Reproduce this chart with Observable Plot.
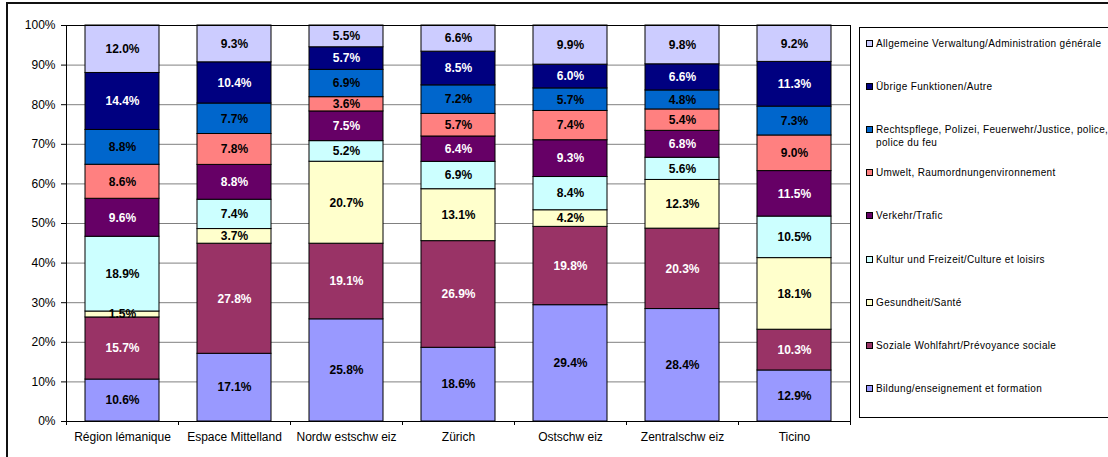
<!DOCTYPE html>
<html>
<head>
<meta charset="utf-8">
<script src="https://cdn.jsdelivr.net/npm/d3@7"></script>
<script src="https://cdn.jsdelivr.net/npm/@observablehq/plot@0.6"></script>
<style>
  body { margin: 0; background: #fff; font-family: "Liberation Sans", Arial, sans-serif; }
  #wrap { position: relative; width: 1108px; height: 457px; overflow: hidden; background: #fff; }
  #outer { position: absolute; left: 6px; top: 2px; width: 1200px; height: 600px; border: 2px solid #111; box-sizing: border-box; }
  #chart { position: absolute; left: 0; top: 0; }
  #legend { position: absolute; left: 859px; top: 27px; width: 300px; height: 391px; border: 1px solid #000; box-sizing: border-box; background: #fff; }
  .item { position: absolute; left: 6px; display: flex; align-items: flex-start; font-size: 10px; letter-spacing: 0.35px; line-height: 13px; color: #000; white-space: pre-line; }
  .sw { width: 5px; height: 5px; border: 1px solid #000; margin-top: 3px; margin-right: 3px; flex: none; }
</style>
</head>
<body>
<div id="wrap">
  <div id="outer"></div>
  <div id="chart"></div>
  <div id="legend"></div>
</div>
<script>
// ---- data ----
const regions = ["Région lémanique", "Espace Mittelland", "Nordwestschweiz", "Zürich", "Ostschweiz", "Zentralschweiz", "Ticino"];
const regionLabels = ["Région lémanique", "Espace Mittelland", "Nordw estschw eiz", "Zürich", "Ostschw eiz", "Zentralschw eiz", "Ticino"];

// series, bottom to top of each bar
const series = [
  "Bildung/enseignement et formation",
  "Soziale Wohlfahrt/Prévoyance sociale",
  "Gesundheit/Santé",
  "Kultur und Freizeit/Culture et loisirs",
  "Verkehr/Trafic",
  "Umwelt, Raumordnungenvironnement",
  "Rechtspflege, Polizei, Feuerwehr/Justice, police, police du feu",
  "Übrige Funktionen/Autre",
  "Allgemeine Verwaltung/Administration générale"
];
const legendLabels = [
  "Bildung/enseignement et formation",
  "Soziale Wohlfahrt/Prévoyance sociale",
  "Gesundheit/Santé",
  "Kultur und Freizeit/Culture et loisirs",
  "Verkehr/Trafic",
  "Umwelt, Raumordnungenvironnement",
  "Rechtspflege, Polizei, Feuerwehr/Justice, police,\npolice du feu",
  "Übrige Funktionen/Autre",
  "Allgemeine Verwaltung/Administration générale"
];
const seriesColors = ["#9999FF", "#993366", "#FFFFCC", "#CCFFFF", "#660066", "#FF8080", "#0066CC", "#000080", "#CCCCFF"];
const darkSeries = ["Soziale Wohlfahrt/Prévoyance sociale", "Verkehr/Trafic", "Übrige Funktionen/Autre"];

const bildung      = [10.6, 17.1, 25.8, 18.6, 29.4, 28.4, 12.9];
const soziale      = [15.7, 27.8, 19.1, 26.9, 19.8, 20.3, 10.3];
const gesundheit   = [1.5, 3.7, 20.7, 13.1, 4.2, 12.3, 18.1];
const kultur       = [18.9, 7.4, 5.2, 6.9, 8.4, 5.6, 10.5];
const verkehr      = [9.6, 8.8, 7.5, 6.4, 9.3, 6.8, 11.5];
const umwelt       = [8.6, 7.8, 3.6, 5.7, 7.4, 5.4, 9.0];
const rechtspflege = [8.8, 7.7, 6.9, 7.2, 5.7, 4.8, 7.3];
const uebrige      = [14.4, 10.4, 5.7, 8.5, 6.0, 6.6, 11.3];
const allgemeine   = [12.0, 9.3, 5.5, 6.6, 9.9, 9.8, 9.2];
const seriesValues = [bildung, soziale, gesundheit, kultur, verkehr, umwelt, rechtspflege, uebrige, allgemeine];

const yTicks = [0, 0.1, 0.2, 0.3, 0.4, 0.5, 0.6, 0.7, 0.8, 0.9, 1];

// ---- table ----
const data = [];
series.forEach((s, si) => {
  regions.forEach((r, ri) => {
    data.push({series: s, region: r, value: seriesValues[si][ri], color: seriesColors[si], textColor: darkSeries.includes(s) ? "#ffffff" : "#000000"});
  });
});

const labelOf = new Map(regions.map((r, i) => [r, regionLabels[i]]));

function boundaryTicks(index, scales) {
  const x = scales.x, y = scales.y;
  const bw = x.bandwidth ? x.bandwidth() : 0;
  const xs = regions.map(r => x(r));
  const gap = xs[1] - xs[0] - bw;
  const bounds = [xs[0] - gap / 2];
  for (let i = 0; i < xs.length; i++) bounds.push(xs[i] + bw + gap / 2);
  const y0 = y(0);
  const g = d3.create("svg:g").attr("stroke", "#000").attr("stroke-width", 1);
  for (const b of bounds) {
    g.append("line").attr("x1", Math.round(b) + 0.5).attr("x2", Math.round(b) + 0.5).attr("y1", y0).attr("y2", y0 + 4);
  }
  return g.node();
}

const stackOpts = {offset: "normalize", x: "region", y: "value", z: "series"};

const chart = Plot.plot({
  width: 852,
  height: 457,
  marginLeft: 66,
  marginRight: 2,
  marginTop: 25,
  marginBottom: 36,
  style: {background: "transparent", fontFamily: "'Liberation Sans', Arial, sans-serif", fontSize: "12px", color: "#000"},
  x: {domain: regions, paddingInner: 0.34, paddingOuter: 0.17, label: null},
  y: {domain: [0, 1], label: null},
  marks: [
    Plot.ruleY(yTicks.slice(1, -1), {stroke: "#808080", strokeWidth: 1}),
    Plot.barY(data, Plot.stackY({...stackOpts, fill: "color", stroke: "#000", strokeWidth: 1})),
    Plot.text(data, Plot.stackY({...stackOpts, text: d => d.value.toFixed(1) + "%", fill: "textColor", fontWeight: "bold", fontSize: 12})),
    Plot.frame({stroke: "#000", strokeWidth: 1}),
    Plot.axisY({ticks: yTicks, tickFormat: d3.format(".0%"), tickSize: 5, tickPadding: 6, fontSize: 12, label: null}),
    Plot.axisX({tickSize: 0, tickPadding: 11, fontSize: 12, label: null, tickFormat: d => labelOf.get(d)}),
    boundaryTicks
  ]
});
document.getElementById("chart").appendChild(chart);

// ---- legend (top to bottom: reverse stack order) ----
const legend = document.getElementById("legend");
const order = d3.range(series.length).reverse();
order.forEach((si, k) => {
  const item = document.createElement("div");
  item.className = "item";
  item.style.top = (9 + k * 43.1) + "px";
  const sw = document.createElement("span");
  sw.className = "sw";
  sw.style.background = seriesColors[si];
  const tx = document.createElement("span");
  tx.textContent = legendLabels[si];
  item.appendChild(sw);
  item.appendChild(tx);
  legend.appendChild(item);
});
</script>
</body>
</html>
